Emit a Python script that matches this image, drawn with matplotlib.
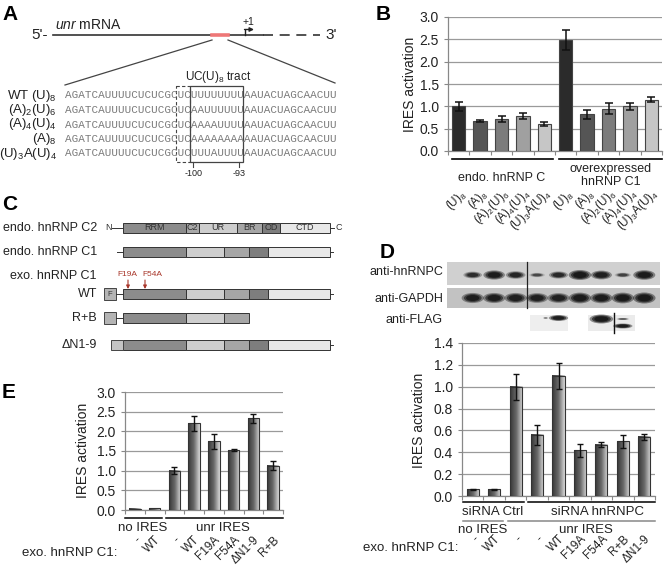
import numpy as np
import matplotlib
matplotlib.use("Agg")
import matplotlib.pyplot as plt
from matplotlib.patches import Rectangle, Ellipse
from matplotlib.colors import LinearSegmentedColormap
from matplotlib.ticker import FormatStrFormatter
from matplotlib.transforms import blended_transform_factory as blend

plt.rcParams.update({
    "font.family": "Liberation Sans",
    "mathtext.fontset": "custom",
    "mathtext.rm": "Liberation Sans",
    "mathtext.it": "Liberation Sans:italic",
    "mathtext.bf": "Liberation Sans:bold",
    "font.size": 9,
})

W, H = 669, 568
TXT = "#222222"

# ---------------- data ----------------
# A: unr 5'UTR sequences
seq_names = ["WT (U)$_8$", "(A)$_2$(U)$_6$", "(A)$_4$(U)$_4$", "(A)$_8$", "(U)$_3$A(U)$_4$"]
seq_5 = "AGATCAUUUUCUCUCGC"
seq_uc = "UC"
seq_tracts = ["UUUUUUUU", "AAUUUUUU", "AAAAUUUU", "AAAAAAAA", "UUUAUUUU"]
seq_3 = "AAUACUAGCAACUU"

# B
b_labels = ["(U)$_8$", "(A)$_8$", "(A)$_2$(U)$_6$", "(A)$_4$(U)$_4$", "(U)$_3$A(U)$_4$"] * 2
b_vals = [1.00, 0.67, 0.72, 0.79, 0.60, 2.48, 0.82, 0.95, 1.00, 1.15]
b_errs = [0.10, 0.03, 0.07, 0.07, 0.04, 0.22, 0.10, 0.12, 0.08, 0.06]

# C: domain maps (amino-acid-like units)
c2_dom = [("RRM", 0, 88), ("C2", 88, 106), ("UR", 106, 160), ("BR", 160, 195),
          ("OD", 195, 220), ("CTD", 220, 290)]
c1_dom = [("RRM", 0, 88), ("UR", 88, 141), ("BR", 141, 176), ("OD", 176, 203),
          ("CTD", 203, 290)]
rb_dom = c1_dom[:3]

# D
d_labels = ["-", "WT", "-", "-", "WT", "F19A", "F54A", "R+B", "ΔN1-9"]
d_vals = [0.06, 0.06, 1.00, 0.56, 1.10, 0.42, 0.47, 0.50, 0.54]
d_errs = [0.008, 0.004, 0.12, 0.09, 0.12, 0.06, 0.02, 0.06, 0.03]
wb_hnrnpc = [0.6, 0.9, 0.7, 0.3, 0.65, 1.0, 0.85, 0.35, 0.95]
wb_gapdh = [0.85, 0.85, 0.85, 0.8, 0.8, 0.95, 0.9, 0.95, 1.0]

# E
e_labels = ["-", "WT", "-", "WT", "F19A", "F54A", "ΔN1-9", "R+B"]
e_vals = [0.03, 0.04, 1.00, 2.20, 1.75, 1.52, 2.33, 1.13]
e_errs = [0.0, 0.0, 0.09, 0.20, 0.19, 0.03, 0.11, 0.12]

# ---------------- figure ----------------
fig = plt.figure(figsize=(W / 100, H / 100), dpi=100)
ov = fig.add_axes([0, 0, 1, 1])
ov.set_xlim(0, W); ov.set_ylim(H, 0); ov.axis("off")


def pax(x0, y0, x1, y1):
    return fig.add_axes([x0 / W, 1 - y1 / H, (x1 - x0) / W, (y1 - y0) / H])


for s, x, y in [("A", 2, 14), ("B", 376, 14), ("C", 2, 205), ("D", 380, 252), ("E", 2, 393)]:
    ov.text(x, y, s, fontsize=15, fontweight="bold", va="center", ha="left")

# ---------------- A ----------------
ov.text(48, 35, "5'-", fontsize=11, ha="right", va="center", color=TXT)
ov.plot([53, 263], [35, 35], color="#333", lw=1.2)
ov.plot([212, 228], [35, 35], color="#ee7777", lw=2.6)
ov.plot([263, 320], [35, 35], color="#333", lw=1.2, ls=(0, (6, 4)))
ov.text(325, 35, "3'", fontsize=11, ha="left", va="center", color=TXT)
ov.text(55, 25, r"$\mathit{unr}$ mRNA", fontsize=10, va="center", color=TXT)
ov.plot([245, 245], [35, 29.5], color="#222", lw=1)
ov.annotate("", xy=(254, 29.5), xytext=(244.5, 29.5),
            arrowprops=dict(arrowstyle="-|>", color="#222", lw=1, mutation_scale=6,
                            shrinkA=0, shrinkB=0))
ov.text(243, 22, "+1", fontsize=7.5, ha="left", va="center", color=TXT)
ov.plot([212, 65], [40, 85], color="#444", lw=0.9)
ov.plot([228, 335], [40, 83], color="#444", lw=0.9)

fs_seq = 7.9
cw = 0.6 * fs_seq * 100 / 72
sx0 = 65
for i, (nm, tr) in enumerate(zip(seq_names, seq_tracts)):
    y = 95.5 + 14.5 * i
    ov.text(57, y, nm, fontsize=9.5, ha="right", va="center", color=TXT)
    ov.text(sx0, y, seq_5 + seq_uc + tr + seq_3, fontsize=fs_seq, family="Liberation Mono",
            ha="left", va="center", color="#7a7a7a")
bx0 = sx0 + len(seq_5) * cw - 1
bx1 = sx0 + (len(seq_5) + len(seq_uc)) * cw
bx2 = bx1 + len(seq_tracts[0]) * cw
ov.add_patch(Rectangle((bx0, 86), bx1 - bx0, 76, fill=False, ec="#444", lw=0.8, ls=(0, (3, 2))))
ov.add_patch(Rectangle((bx1, 86), bx2 - bx1, 76, fill=False, ec="#444", lw=0.9))
ov.text(185, 77, "UC(U)$_8$ tract", fontsize=8.5, ha="left", va="center", color=TXT)
for k, lab in [(0, "-100"), (7, "-93")]:
    xx = bx1 + (k + 0.5) * cw
    ov.plot([xx, xx], [162, 167], color="#444", lw=0.8)
    ov.text(xx, 174, lab, fontsize=6.5, ha="center", va="center", color=TXT)

# ---------------- C ----------------
dom_col = {"RRM": "#8c8c8c", "C2": "#a8a8a8", "UR": "#cecece", "BR": "#a6a6a6",
           "OD": "#7e7e7e", "CTD": "#e8e8e8"}
px0, scl = 123, 207 / 290


def protein(y, doms, names=False, h=10):
    for nm, a, b in doms:
        ov.add_patch(Rectangle((px0 + a * scl, y - h / 2), (b - a) * scl, h,
                               fc=dom_col[nm], ec="#333", lw=0.7))
        if names:
            ov.text(px0 + (a + b) / 2 * scl, y, nm, fontsize=6.5, ha="center",
                    va="center", color="#333")


rows = [("endo. hnRNP C2", 228), ("endo. hnRNP C1", 252), ("exo. hnRNP C1", 276),
        ("WT", 294), ("R+B", 318), ("ΔN1-9", 345)]
for lab, y in rows:
    ov.text(97, y, lab, fontsize=9, ha="right", va="center", color=TXT)

protein(228, c2_dom, names=True)
ov.text(108, 228, "N", fontsize=6.5, ha="center", va="center", color="#333")
ov.plot([112, 123], [228, 228], color="#333", lw=0.7)
ov.plot([330, 334], [228, 228], color="#333", lw=0.7)
ov.text(336, 228, "C", fontsize=6.5, ha="left", va="center", color="#333")

protein(252, c1_dom)
ov.plot([117, 123], [252, 252], color="#333", lw=0.7)
ov.plot([330, 333], [252, 252], color="#333", lw=0.7)

protein(294, c1_dom)
ov.add_patch(Rectangle((104, 288), 12, 12, fc="#b4b4b4", ec="#444", lw=0.7))
ov.text(110, 294, "F", fontsize=5.5, ha="center", va="center", color="#333")
ov.plot([116, 123], [294, 294], color="#333", lw=0.7)
ov.plot([330, 333], [294, 294], color="#333", lw=0.7)

protein(318, rb_dom)
ov.add_patch(Rectangle((104, 312), 12, 12, fc="#b4b4b4", ec="#444", lw=0.7))
ov.plot([116, 123], [318, 318], color="#333", lw=0.7)

protein(345, c1_dom)
ov.add_patch(Rectangle((111, 340), 12, 10, fc="#c4c4c4", ec="#444", lw=0.7))
ov.plot([330, 333], [345, 345], color="#333", lw=0.7)

red = "#a8362a"
for lab, tx, ax_ in [("F19A", 127, 128), ("F54A", 152, 145)]:
    ov.text(tx, 275, lab, fontsize=6, ha="center", va="center", color=red)
    ov.annotate("", xy=(ax_, 289), xytext=(ax_, 280),
                arrowprops=dict(arrowstyle="-|>", color=red, lw=0.8, mutation_scale=5,
                                shrinkA=0, shrinkB=0))


# ---------------- bar chart helpers ----------------
def style(ax, n, ymax, step):
    ax.set_xlim(-0.5, n - 0.5); ax.set_ylim(0, ymax)
    ax.set_yticks(np.arange(0, ymax + 1e-9, step))
    ax.yaxis.set_major_formatter(FormatStrFormatter("%.1f"))
    ax.set_xticks(np.arange(n + 1) - 0.5); ax.set_xticklabels([])
    ax.grid(axis="y", color="#9a9a9a", lw=0.9)
    ax.set_axisbelow(True)
    for s in ("top", "right"):
        ax.spines[s].set_visible(False)
    for s in ("left", "bottom"):
        ax.spines[s].set_color("#888"); ax.spines[s].set_linewidth(0.9)
    ax.tick_params(axis="both", length=3, color="#888", width=0.8, labelsize=10,
                   labelcolor=TXT)
    ax.patch.set_alpha(0)


grad_cm = LinearSegmentedColormap.from_list("g", ["#363636", "#6a6a6a", "#dadada"])
grad = np.linspace(0, 1, 64).reshape(1, -1)


def grad_bars(ax, vals, errs, w=0.56):
    x = np.arange(len(vals))
    for xi, v in zip(x, vals):
        ax.imshow(grad, extent=[xi - w / 2, xi + w / 2, 0, v], aspect="auto",
                  cmap=grad_cm, zorder=3, interpolation="bilinear")
    ax.bar(x, vals, w, facecolor="none", edgecolor="#333", lw=0.8, zorder=4)
    m = np.array(errs) > 0
    ax.errorbar(x[m], np.array(vals)[m], yerr=np.array(errs)[m], fmt="none",
                ecolor="#111", elinewidth=1, capsize=2.5, capthick=1, zorder=5)


# ---------------- B ----------------
axB = pax(448, 17, 662, 151)
b_colors = ["#2b2b2b", "#555555", "#7c7c7c", "#a0a0a0", "#c6c6c6"] * 2
xb = np.arange(len(b_vals))
axB.bar(xb, b_vals, 0.62, color=b_colors, edgecolor="#444", lw=0.8, zorder=3)
axB.errorbar(xb, b_vals, yerr=b_errs, fmt="none", ecolor="#111", elinewidth=1.1,
             capsize=2.8, capthick=1.1, zorder=5)
style(axB, len(b_vals), 3.0, 0.5)
ov.text(410, 84, "IRES activation", rotation=90, fontsize=10, ha="center", va="center", color=TXT)
tB = blend(axB.transData, ov.transData)
ov.plot([-0.3, 4.4], [159, 159], transform=tB, color="k", lw=1.2)
ov.plot([4.7, 9.5], [159, 159], transform=tB, color="k", lw=1.2)
ov.text(2.0, 178, "endo. hnRNP C", transform=tB, ha="center", va="center", fontsize=9, color=TXT)
ov.text(7.1, 175.5, "overexpressed\nhnRNP C1", transform=tB, ha="center", va="center",
        fontsize=9, color=TXT, linespacing=1.15)
for i, lab in enumerate(b_labels):
    ov.text(i + 0.25, 192, lab, transform=tB, rotation=45, ha="right", va="center",
            rotation_mode="anchor", fontsize=8.5, color=TXT)

# ---------------- D ----------------
axD = pax(462, 343, 655, 496)
grad_bars(axD, d_vals, d_errs)
style(axD, len(d_vals), 1.4, 0.2)
ov.text(419, 420, "IRES activation", rotation=90, fontsize=10, ha="center", va="center", color=TXT)
tD = blend(axD.transData, ov.transData)

# western blot
ov.add_patch(Rectangle((447, 262), 213, 23, fc="#d0d0d0", ec="none"))
ov.add_patch(Rectangle((447, 288), 213, 20, fc="#c2c2c2", ec="none"))
ov.add_patch(Rectangle((530, 315), 38, 16, fc="#eeeeee", ec="none"))
ov.add_patch(Rectangle((588, 315), 47, 16, fc="#ebebeb", ec="none"))
ov.plot([527, 527], [262, 308], color="#222", lw=0.9)
ov.plot([614, 614], [313, 333], color="#111", lw=1.0)


def band(xi, y, w, h, inten):
    for k, f in enumerate([1.0, 0.8, 0.6]):
        ov.add_patch(Ellipse((xi, y), w * f, h * f, transform=tD, fc="#151515",
                             ec="none", alpha=min(1.0, 0.45 * inten + 0.2 * k)))


for i, v in enumerate(wb_hnrnpc):
    band(i, 275, 0.6 + 0.45 * v, 2 + 8 * v, v)
for i, v in enumerate(wb_gapdh):
    band(i, 298, 0.95 + 0.1 * v, 5 + 6 * v, v)
band(3.4, 318, 0.25, 1.5, 0.3)
band(4.0, 318, 0.9, 6, 0.9)
band(6.0, 319, 1.1, 9, 1.0)
band(7.0, 326, 0.9, 5, 0.9)
band(7.0, 319, 0.6, 2, 0.4)
for lab, y in [("anti-hnRNPC", 272), ("anti-GAPDH", 299), ("anti-FLAG", 320)]:
    ov.text(443, y, lab, fontsize=9, ha="right", va="center", color=TXT)

ov.plot([-0.45, 2.4], [502, 502], transform=tD, color="k", lw=1.1)
ov.plot([2.6, 8.5], [502, 502], transform=tD, color="k", lw=1.1)
ov.text(0.95, 512, "siRNA Ctrl", transform=tD, ha="center", va="center", fontsize=9.5, color=TXT)
ov.text(5.8, 512, "siRNA hnRNPC", transform=tD, ha="center", va="center", fontsize=9.5, color=TXT)
ov.plot([-0.45, 1.4], [521, 521], transform=tD, color="#888", lw=1.1)
ov.plot([1.65, 8.5], [521, 521], transform=tD, color="#888", lw=1.1)
ov.text(0.45, 530, "no IRES", transform=tD, ha="center", va="center", fontsize=9.5, color=TXT)
ov.text(5.3, 530, "unr IRES", transform=tD, ha="center", va="center", fontsize=9.5, color=TXT)
ov.text(458, 548, "exo. hnRNP C1:", fontsize=9.5, ha="right", va="center", color=TXT)
for i, lab in enumerate(d_labels):
    ov.text(i + 0.2, 537, lab, transform=tD, rotation=45, ha="right", va="center",
            rotation_mode="anchor", fontsize=8.5, color=TXT)

# ---------------- E ----------------
axE = pax(125, 392, 283, 510)
grad_bars(axE, e_vals, e_errs, w=0.58)
style(axE, len(e_vals), 3.0, 0.5)
ov.text(83, 450, "IRES activation", rotation=90, fontsize=10, ha="center", va="center", color=TXT)
tE = blend(axE.transData, ov.transData)
ov.plot([-0.5, 1.37], [518, 518], transform=tE, color="k", lw=1.1)
ov.plot([1.58, 7.5], [518, 518], transform=tE, color="k", lw=1.1)
ov.text(0.42, 528, "no IRES", transform=tE, ha="center", va="center", fontsize=9.5, color=TXT)
ov.text(4.45, 528, "unr IRES", transform=tE, ha="center", va="center", fontsize=9.5, color=TXT)
ov.text(117, 553, "exo. hnRNP C1:", fontsize=9.5, ha="right", va="center", color=TXT)
for i, lab in enumerate(e_labels):
    ov.text(i + 0.2, 538, lab, transform=tE, rotation=45, ha="right", va="center",
            rotation_mode="anchor", fontsize=8.5, color=TXT)

fig.savefig("out.png", dpi=100)
